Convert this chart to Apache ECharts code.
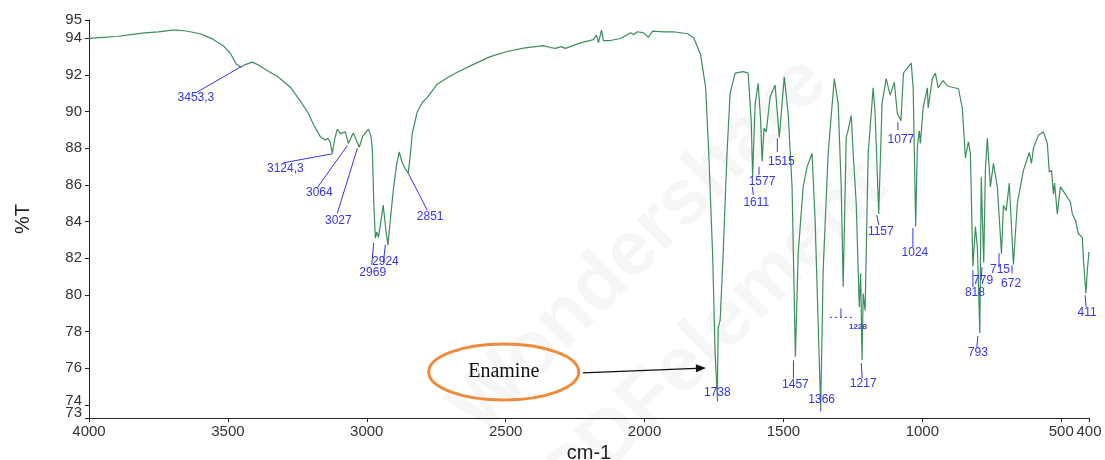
<!DOCTYPE html>
<html>
<head>
    <meta charset='utf-8' />
    <title>IR spectrum</title>
    <style>
        body { margin: 0; padding: 0; background: #fff; }
        #chart { width: 1105px; height: 460px; }
    </style>
</head>
<body>
    <div id='chart'></div>
    <script type="text/javascript" src="https://cdn.jsdelivr.net/npm/echarts@6/dist/echarts.min.js"></script>
    <script type="text/javascript">
        // spectrum (cm-1 / %T)
        var wavenumber = [4000, 3950, 3900, 3850, 3800, 3750, 3700, 3683, 3650, 3600, 3560, 3517, 3492, 3470, 3453, 3440, 3413, 3390, 3359, 3320,
            3276, 3240, 3210, 3192, 3168, 3150, 3140, 3132, 3124, 3115, 3106, 3095, 3088, 3077, 3066, 3055, 3048, 3038, 3027, 3015,
            2994, 2985, 2980, 2975, 2969, 2964, 2958, 2950, 2941, 2932, 2924, 2915, 2904, 2893, 2883, 2874, 2862, 2851, 2843, 2836,
            2818, 2800, 2782, 2746, 2710, 2674, 2616, 2555, 2494, 2436, 2364, 2340, 2321, 2300, 2285, 2231, 2184, 2173, 2166, 2155,
            2148, 2123, 2087, 2050, 2040, 2025, 2004, 1986, 1971, 1930, 1896, 1845, 1823, 1798, 1780, 1769, 1755, 1746, 1738, 1735,
            1728, 1717, 1703, 1692, 1674, 1645, 1627, 1616, 1611, 1602, 1591, 1582, 1577, 1570, 1562, 1548, 1530, 1515, 1497, 1483,
            1469, 1457, 1447, 1429, 1415, 1397, 1386, 1366, 1357, 1339, 1317, 1303, 1292, 1285, 1274, 1267, 1256, 1249, 1238, 1231,
            1227, 1222, 1217, 1213, 1206, 1195, 1177, 1170, 1157, 1145, 1130, 1116, 1101, 1090, 1077, 1068, 1040, 1033, 1024, 1018,
            1011, 1007, 997, 982, 979, 964, 953, 943, 925, 910, 870, 856, 845, 834, 827, 818, 809, 802, 793, 788,
            779, 773, 766, 755, 744, 730, 715, 708, 698, 687, 672, 658, 636, 615, 607, 600, 582, 564, 550, 543,
            535, 528, 524, 514, 503, 485, 467, 460, 449, 438, 424, 420, 411, 406, 400];
        var transmittance = [94.0, 94.05, 94.1, 94.2, 94.3, 94.35, 94.45, 94.45, 94.4, 94.25, 94.0, 93.6, 93.2, 92.6, 92.42, 92.55, 92.7, 92.55, 92.25, 91.9,
            91.35, 90.6, 89.9, 89.3, 88.65, 88.45, 88.55, 88.35, 87.72, 88.55, 89.05, 88.8, 88.75, 88.9, 88.26, 88.65, 88.83, 88.45, 88.06, 88.65,
            89.05, 88.65, 87.97, 85.1, 83.1, 83.44, 83.14, 83.93, 84.9, 83.64, 82.72, 84.12, 85.8, 87.08, 87.8, 87.28, 86.9, 86.64, 87.68, 88.85,
            90.0, 90.5, 90.78, 91.5, 91.85, 92.15, 92.58, 93.0, 93.28, 93.47, 93.6, 93.5, 93.45, 93.55, 93.45, 93.75, 93.93, 94.17, 93.76, 94.45,
            93.88, 93.88, 93.99, 94.3, 94.2, 94.36, 94.3, 94.06, 94.39, 94.35, 94.36, 94.25, 94.03, 93.1, 91.3, 87.77, 82.25, 76.83, 74.41, 78.21,
            78.6, 82.25, 87.77, 91.0, 92.1, 92.18, 92.1, 89.5, 86.45, 90.4, 91.55, 89.5, 87.28, 89.1, 88.9, 90.8, 91.45, 88.6, 91.9, 89.9,
            85.9, 76.63, 82.25, 85.9, 86.99, 87.72, 84.08, 73.87, 81.36, 87.72, 91.8, 90.45, 85.9, 80.45, 88.6, 89.0, 89.8, 87.72, 85.0, 81.36,
            79.34, 81.17, 76.44, 80.08, 79.16, 87.72, 91.3, 89.9, 84.42, 90.45, 91.8, 90.9, 91.6, 89.9, 89.5, 92.1, 92.65, 91.3, 83.73, 88.06,
            88.95, 88.26, 90.2, 91.3, 90.2, 91.8, 92.1, 91.3, 91.7, 91.4, 91.25, 90.2, 87.48, 88.36, 87.72, 81.56, 83.73, 82.65, 77.91, 86.45,
            81.76, 86.8, 88.55, 85.9, 87.18, 85.9, 82.25, 84.9, 84.6, 86.1, 81.66, 85.0, 86.8, 87.77, 87.18, 88.0, 88.72, 88.9, 88.26, 86.7,
            86.8, 85.5, 86.1, 84.42, 85.9, 85.5, 85.06, 84.42, 84.08, 83.34, 83.14, 81.91, 80.08, 81.36, 82.35];

        // peak labels: text, and where the leader line starts on the curve
        var peakLabels = ['3453,3', '3124,3', '3064', '3027', '2969', '2924', '2851', '1738', '1611', '1577', '1515', '1457',
            '1366', '1217', '1157', '1077', '1024', '818', '779', '793', '715', '672', '411', '1228'];
        var peakWn = [3453, 3124, 3070, 3034, 2975, 2933, 2851, 1738, 1612, 1588, 1522, 1464,
            1366, 1220, 1164, 1088, 1034, 818, 785, 800, 724, 677, 414, 1293];
        var peakT = [92.45, 87.7, 88.15, 88.0, 82.85, 82.75, 86.65, 74.41, 85.9, 86.99, 88.55, 76.44,
            73.87, 76.29, 84.36, 89.43, 83.65, 81.36, 81.52, 77.76, 82.28, 81.62, 79.99, 79.27];

        var xTicks = [4000, 3500, 3000, 2500, 2000, 1500, 1000, 500, 400];
        var yMin = 73.29;
        var yTicks = [74, 76, 78, 80, 82, 84, 86, 88, 90, 92, 94, 95];

        // leader line end (dx, dy) and label centre (dx, dy), pixels from the start point
        var labelOffsets = [[-45, 26, -45, 31], [-49, 9, -47, 15], [-30, 42, -28, 47], [-20, 65, -19, 72],
            [-2, 22, -1, 30], [-2, 18, 0, 17], [19, 37, 22, 44], [0, 4, 0, -5], [1, 8, 4, 16], [0, 8, 3, 15],
            [0, 14, 4, 23], [0, 18, 2, 24], [0, 4, 1, -8], [1, 15, 2, 21], [2, 10, 4, 17], [0, 8, 3, 18],
            [0, 19, 2, 25], [0, 17, 2, 23], [-1, 13, 1, 14], [-1, 11, 0, 17], [0, 14, 1, 16], [0, 8, -1, 18],
            [1, 12, 2, 18], [0, 9, 17, 18]];

        var blue = '#3434f4';
        var green = '#3b8e5d';
        var spectrum = wavenumber.map(function (w, i) { return [w, transmittance[i]]; });
        var peaks = peakWn.map(function (w, i) { return [w, peakT[i]]; });
        var labelFont = { fontSize: 15, color: '#333', fontFamily: 'Liberation Sans' };

        var chart = echarts.init(document.getElementById('chart'));
        chart.setOption({
            animation: false,
            grid: { left: 89, right: 16, top: 20, bottom: 42, outerBoundsMode: 'none' },
            xAxis: {
                type: 'value', inverse: true, min: 400, max: 4000,
                name: 'cm-1', nameLocation: 'middle', nameGap: 20,
                nameTextStyle: { fontSize: 20, color: '#222', fontFamily: 'Liberation Sans' },
                axisLine: { show: true, lineStyle: { color: '#222', width: 1 } },
                axisTick: { show: true, length: 4, customValues: xTicks, lineStyle: { color: '#222' } },
                axisLabel: Object.assign({
                    customValues: xTicks, margin: 6, hideOverlap: false,
                    formatter: function (v) { return String(v); }
                }, labelFont),
                splitLine: { show: false }
            },
            yAxis: [{
                type: 'value', min: yMin, max: 95,
                name: '%T', nameLocation: 'middle', nameGap: 56, nameRotate: 90,
                nameTextStyle: { fontSize: 20, color: '#222', fontFamily: 'Liberation Sans' },
                axisLine: { show: true, lineStyle: { color: '#222', width: 1 } },
                axisTick: { show: true, length: 4, customValues: yTicks, lineStyle: { color: '#222' } },
                axisLabel: Object.assign({
                    customValues: yTicks, margin: 7, showMinLabel: true,
                    formatter: function (v) { return v === 74 ? '{up|74}' : String(v); },
                    rich: { up: Object.assign({ padding: [0, 0, 9, 0] }, labelFont) }
                }, labelFont),
                splitLine: { show: false }
            }, {
                // the axis minimum gets its own label ("73"), sitting just above the x axis
                type: 'value', min: yMin, max: 95, position: 'left',
                axisLine: { show: false },
                axisTick: { show: true, length: 4, customValues: [yMin], lineStyle: { color: '#222' } },
                axisLabel: Object.assign({
                    customValues: [yMin], margin: 7, verticalAlign: 'bottom', lineHeight: 10,
                    showMinLabel: true,
                    formatter: function (v) { return String(Math.round(v)); }
                }, labelFont),
                splitLine: { show: false }
            }],
            series: [{
                type: 'line',
                data: spectrum,
                symbol: 'none',
                z: 3,
                lineStyle: { color: green, width: 1.2 }
            }, {
                type: 'custom',
                data: peaks,
                clip: false,
                z: 4,
                renderItem: function (params, api) {
                    var p = api.coord([api.value(0), api.value(1)]);
                    var o = labelOffsets[params.dataIndex];
                    var txt = peakLabels[params.dataIndex];
                    var small = txt === '1228';
                    var children = [{
                        type: 'line',
                        shape: { x1: p[0], y1: p[1], x2: p[0] + o[0], y2: p[1] + o[1] },
                        style: { stroke: blue, lineWidth: 1 }
                    }, {
                        type: 'text',
                        x: p[0] + o[2], y: p[1] + o[3],
                        style: {
                            text: txt, fill: blue, align: 'center', verticalAlign: 'middle',
                            font: (small ? 'bold 8px' : '12px') + ' "Liberation Sans", Arial, sans-serif'
                        }
                    }];
                    if (small) {
                        children.push({
                            type: 'line',
                            shape: { x1: p[0] - 11, y1: p[1] + 9, x2: p[0] + 14, y2: p[1] + 9 },
                            style: { stroke: blue, lineWidth: 1, lineDash: [2, 3] }
                        });
                    }
                    return { type: 'group', children: children };
                }
            }]
        });

        // Enamine callout, placed from data coordinates
        var c = chart.convertToPixel({ seriesIndex: 0 }, [2507, 75.8]);
        var tail = chart.convertToPixel({ seriesIndex: 0 }, [2222, 75.75]);
        var tip = chart.convertToPixel({ seriesIndex: 0 }, [1779, 76.02]);
        var ang = Math.atan2(tip[1] - tail[1], tip[0] - tail[0]);
        var hl = 10, hw = 4;
        var bx = tip[0] - hl * Math.cos(ang), by = tip[1] - hl * Math.sin(ang);
        chart.setOption({
            graphic: [{
                type: 'text', x: 640, y: 245, rotation: Math.PI / 4, silent: true, z: 0,
                style: { text: 'Wondershare', fill: 'rgba(0,0,0,0.035)', font: 'bold 78px "Liberation Sans"', align: 'center', verticalAlign: 'middle' }
            }, {
                type: 'text', x: 715, y: 335, rotation: Math.PI / 4, silent: true, z: 0,
                style: { text: 'PDFelement', fill: 'rgba(0,0,0,0.035)', font: 'bold 78px "Liberation Sans"', align: 'center', verticalAlign: 'middle' }
            }, {
                type: 'ellipse', z: 10,
                shape: { cx: c[0], cy: c[1], rx: 75, ry: 28 },
                style: { fill: 'none', stroke: '#f08a3c', lineWidth: 3 }
            }, {
                type: 'text', z: 11, x: c[0], y: c[1],
                style: { text: 'Enamine', fill: '#111', font: '20px "Liberation Serif", "Times New Roman", serif', align: 'center', verticalAlign: 'middle' }
            }, {
                type: 'line', z: 10,
                shape: { x1: tail[0], y1: tail[1], x2: bx, y2: by },
                style: { stroke: '#111', lineWidth: 1.3 }
            }, {
                type: 'polygon', z: 10,
                shape: {
                    points: [tip,
                        [bx + hw * Math.sin(ang), by - hw * Math.cos(ang)],
                        [bx - hw * Math.sin(ang), by + hw * Math.cos(ang)]]
                },
                style: { fill: '#111' }
            }]
        });
    </script>
</body>
</html>
